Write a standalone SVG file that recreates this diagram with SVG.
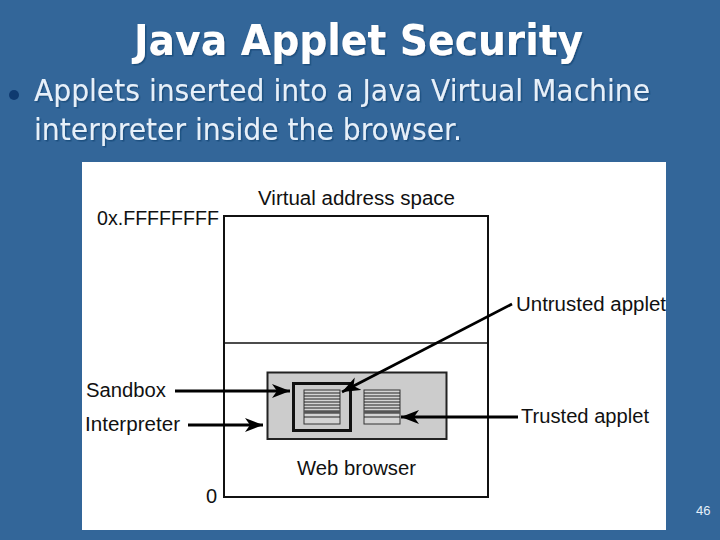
<svg xmlns="http://www.w3.org/2000/svg" width="720" height="540" viewBox="0 0 720 540">
<style>
.bg{fill:#336699}
.title{font:bold 43px "DejaVu Sans",sans-serif;fill:#fff;filter:url(#ds)}
.body{font:31px "DejaVu Sans",sans-serif;fill:#e6f0fa;filter:url(#ds)}
.lab{font:20px "Liberation Sans",Arial,sans-serif;fill:#111}
.box{fill:none;stroke:#111;stroke-width:2}
.conn{fill:none;stroke:#000;stroke-width:2.8}
.rule{stroke:#222;stroke-width:1.2}
.dark{stroke:#555;stroke-width:3.500}
</style>
<defs>
<filter id="ds" x="-5%" y="-20%" width="110%" height="140%">
<feDropShadow dx="1.500" dy="1.500" stdDeviation="0.500" flood-color="#1f4f7f"/>
</filter>
<marker id="arr" markerUnits="userSpaceOnUse" markerWidth="20" markerHeight="16" refX="18" refY="8" orient="auto">
<path d="M0 1 L18 8 L0 15 L5 8 Z" fill="#000"/>
</marker>
<g id="stack">
<rect x="0" y="0" width="36" height="34" fill="#d4d4d4" stroke="#333" stroke-width="1"/>
<path class="rule" d="M0 3H36M0 6H36M0 9H36M0 12H36M0 15H36M0 18H36M0 27H36"/>
<path class="dark" d="M0 22H36"/>
</g>
</defs>
<rect class="bg" width="720" height="540"/>
<g id="heading">
<text class="title" x="134" y="55" textLength="449" lengthAdjust="spacingAndGlyphs">Java Applet Security</text>
<circle cx="14" cy="95" r="5" fill="#0f3a70"/>
<text class="body" x="34" y="101" textLength="616" lengthAdjust="spacingAndGlyphs">Applets inserted into a Java Virtual Machine</text>
<text class="body" x="34" y="140" textLength="428" lengthAdjust="spacingAndGlyphs">interpreter inside the browser.</text>
</g>
<rect x="82" y="162" width="584" height="368" fill="#fff"/>
<g id="address-space">
<rect class="box" x="224" y="216" width="264" height="281"/>
<line x1="224" y1="343" x2="488" y2="343" stroke="#111" stroke-width="1.500"/>
<text class="lab" x="258" y="205" textLength="197" lengthAdjust="spacingAndGlyphs">Virtual address space</text>
<text class="lab" x="97" y="225" textLength="122" lengthAdjust="spacingAndGlyphs">0x.FFFFFFFF</text>
<text class="lab" x="206" y="503">0</text>
</g>
<g id="web-browser">
<rect x="267.500" y="372.500" width="179" height="66.500" fill="#cccccc" stroke="#222" stroke-width="2"/>
<text class="lab" x="297" y="475" textLength="119" lengthAdjust="spacingAndGlyphs">Web browser</text>
</g>
<g id="sandbox">
<rect x="293.500" y="383.500" width="57" height="47" fill="none" stroke="#111" stroke-width="3"/>
</g>
<g id="untrusted-applet"><use href="#stack" x="304" y="390"/></g>
<g id="trusted-applet"><use href="#stack" x="364" y="390"/></g>
<g id="labels">
<text class="lab" x="86" y="397" textLength="80" lengthAdjust="spacingAndGlyphs">Sandbox</text>
<text class="lab" x="85" y="431" textLength="95" lengthAdjust="spacingAndGlyphs">Interpreter</text>
<text class="lab" x="516" y="311" textLength="150" lengthAdjust="spacingAndGlyphs">Untrusted applet</text>
<text class="lab" x="521" y="423" textLength="128" lengthAdjust="spacingAndGlyphs">Trusted applet</text>
</g>
<g id="connectors">
<line class="conn" x1="175" y1="391" x2="290" y2="391" marker-end="url(#arr)"/>
<line class="conn" x1="188" y1="425" x2="263" y2="425" marker-end="url(#arr)"/>
<line class="conn" x1="512" y1="304" x2="342" y2="392" marker-end="url(#arr)"/>
<line class="conn" x1="518" y1="417" x2="401" y2="417" marker-end="url(#arr)"/>
</g>
<text x="696" y="515" font-family="Liberation Sans, Arial, sans-serif" font-size="13" fill="#e6f0fa">46</text>
</svg>
